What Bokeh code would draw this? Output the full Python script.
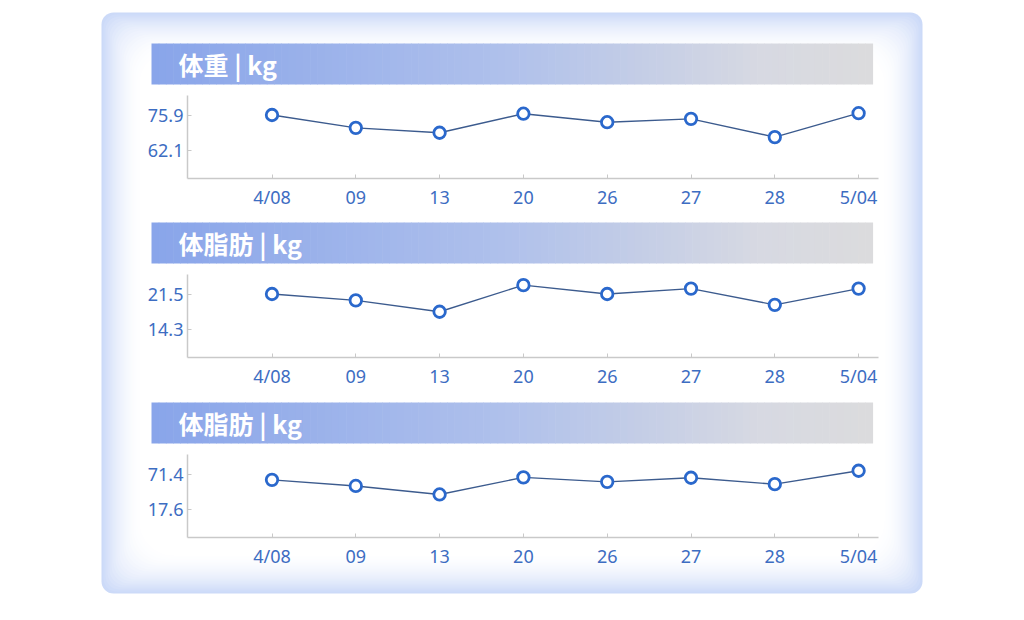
import numpy as np
from bokeh.plotting import figure
from bokeh.models import Range1d, LinearAxis, FixedTicker
from bokeh.core.properties import value
from bokeh.embed import file_html
from bokeh.resources import INLINE

# data
dates = ["4/08", "09", "13", "20", "26", "27", "28", "5/04"]
weight = [75.9, 70.9, 69.0, 76.4, 73.1, 74.4, 67.3, 76.6]
body_fat = [21.5, 20.2, 17.9, 23.3, 21.5, 22.6, 19.3, 22.6]
third = [62.5, 53.3, 40.4, 66.3, 59.5, 65.7, 56.0, 76.3]
titles = ["体重 | kg", "体脂肪 | kg", "体脂肪 | kg"]
y_ticks = [[62.1, 75.9], [14.3, 21.5], [17.6, 71.4]]
series = [weight, body_fat, third]

# layout in screen pixels (figure ends up at the page's top-left corner)
W, H = 1008, 604
X0, Y0 = 0, 0
x_first, x_step = 271.5, 83.8
axis_x = 187
axis_right = 878
panel_tops = [43, 222, 402]
bar_left, bar_right, bar_h = 151, 872, 41
box = (101, 922, 12, 593)  # left, right, top, bottom

label_color = "#3d6dc2"
grid_gray = "#c9c9c9"


def mix(c1, c2, t):
    r, g, b = (int(round(a + (b_ - a) * t)) for a, b_ in zip(c1, c2))
    return "#%02x%02x%02x" % (r, g, b)


def bar_color(t):
    stops = [(0.0, (137, 165, 234)), (0.5, (176, 193, 235)),
             (0.85, (215, 217, 226)), (1.0, (219, 219, 221))]
    for (t0, c0), (t1, c1) in zip(stops, stops[1:]):
        if t <= t1:
            return mix(c0, c1, (t - t0) / (t1 - t0))
    return mix(stops[-1][1], stops[-1][1], 0)


p = figure(width=W, height=H, x_range=Range1d(X0, X0 + W),
           y_range=Range1d(Y0 + H, Y0), output_backend="svg",
           toolbar_location=None, x_axis_location=None, y_axis_location=None,
           min_border=0)
p.grid.visible = False
p.outline_line_color = None
p.background_fill_color = "white"
p.border_fill_color = "white"

# panel with soft inner glow
l, r, t, b = box
depth = 40
edge = (204, 218, 248)
for k in range(0, depth + 1, 2):
    f = (1 - k / depth) ** 1.8
    p.quad(left=[l + k], right=[r - k], top=[t + k], bottom=[b - k],
           fill_color=mix((255, 255, 255), edge, f), line_color=None,
           border_radius=int(12 + k * 0.6))

# shared x mapping: index -> screen x
p.extra_x_ranges = {"idx": Range1d((X0 - x_first) / x_step,
                                   (X0 + W - x_first) / x_step)}
idx = list(range(len(dates)))

for i, top in enumerate(panel_tops):
    # header bar gradient
    n = 100
    xs = np.linspace(bar_left, bar_right, n + 1)
    p.quad(left=xs[:-1], right=xs[1:] + 0.6, top=[top] * n,
           bottom=[top + bar_h] * n,
           fill_color=[bar_color(j / (n - 1)) for j in range(n)],
           line_color=None)
    p.text(x=[178], y=[top + bar_h / 2 - 0.5], text=[titles[i]],
           text_font=value("Noto Sans CJK SC"), text_font_style="bold",
           text_font_size="25px", text_color="white",
           text_baseline="middle")

    # y mapping: tick labels sit at fixed screen rows
    lo, hi = y_ticks[i]
    y_hi, y_lo = top + 71.5, top + 107
    s = (y_lo - y_hi) / (hi - lo)

    def v_at(y):
        return hi - (y - y_hi) / s

    name = f"v{i}"
    p.extra_y_ranges[name] = Range1d(v_at(Y0 + H), v_at(Y0))

    xa = LinearAxis(x_range_name="idx", ticker=FixedTicker(ticks=idx),
                    major_label_overrides={k: d for k, d in enumerate(dates)},
                    fixed_location=top + 134.5,
                    bounds=((axis_x - x_first) / x_step,
                            (axis_right - x_first) / x_step))
    ya = LinearAxis(y_range_name=name, ticker=FixedTicker(ticks=[lo, hi]),
                    major_label_overrides={lo: str(lo), hi: str(hi)},
                    fixed_location=axis_x,
                    bounds=(v_at(top + 134.5), v_at(top + 52)))
    for ax in (xa, ya):
        ax.axis_line_color = grid_gray
        ax.axis_line_width = 1.5
        ax.major_tick_line_color = grid_gray
        ax.major_tick_line_width = 1
        ax.major_tick_in = 4
        ax.major_tick_out = 0
        ax.minor_tick_line_color = None
        ax.major_label_text_color = label_color
        ax.major_label_text_font = "Noto Sans"
        ax.major_label_text_font_size = "18px"
    xa.major_label_standoff = 7
    ya.major_label_standoff = 4
    p.add_layout(xa, "below")
    p.add_layout(ya, "left")

    p.line(x=idx, y=series[i], x_range_name="idx", y_range_name=name,
           line_color="#3c5b8e", line_width=1.4)
    p.scatter(x=idx, y=series[i], x_range_name="idx", y_range_name=name,
              size=11.5, fill_color="white", line_color="#2a68cc",
              line_width=2.8)

open("out.html", "w").write(file_html(p, INLINE))
